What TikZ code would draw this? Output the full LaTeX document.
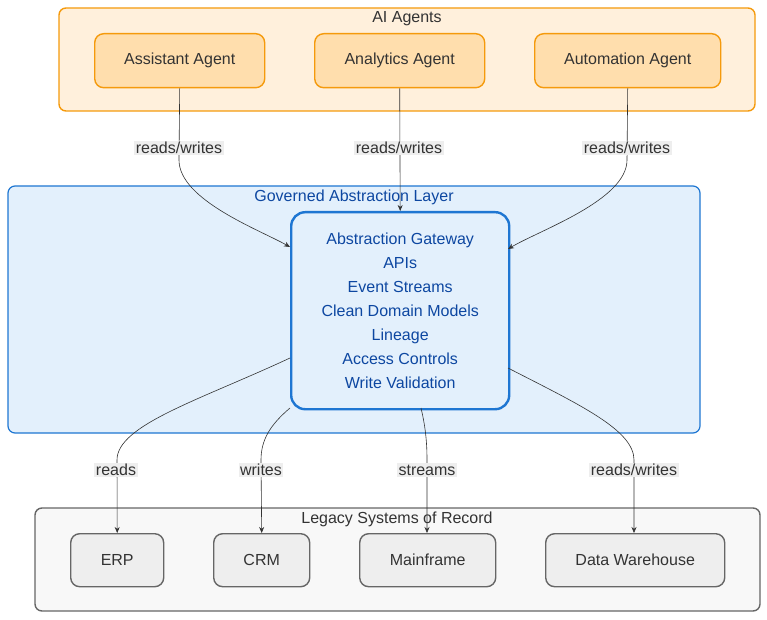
\documentclass[tikz,border=0pt]{standalone}
\usepackage{fontspec}
\setmainfont{Liberation Sans}
\usetikzlibrary{arrows.meta}
\definecolor{orgF}{HTML}{FFF0DC}
\definecolor{orgS}{HTML}{F59A0C}
\definecolor{agF}{HTML}{FFDEAD}
\definecolor{bluF}{HTML}{E3F0FC}
\definecolor{bluS}{HTML}{1E76D2}
\definecolor{bluT}{HTML}{0D47A1}
\definecolor{gryF}{HTML}{F8F8F8}
\definecolor{gryS}{HTML}{666666}
\definecolor{sysF}{HTML}{EEEEEE}
\definecolor{txt}{HTML}{333333}
\begin{document}
\begin{tikzpicture}[x=1pt,y=-1pt,
  font=\fontsize{16}{19}\selectfont,
  grp/.style={draw,rounded corners=7pt,line width=1.4pt},
  agent/.style={draw=orgS,fill=agF,rounded corners=9pt,line width=1.4pt,text=txt,minimum height=54pt,anchor=north west,inner sep=0pt},
  sys/.style={draw=gryS,fill=sysF,rounded corners=9pt,line width=1.4pt,text=txt,minimum height=53pt,anchor=north west,inner sep=0pt},
  lab/.style={fill=sysF,text=txt,inner sep=1.5pt},
  arr/.style={draw=txt,line width=0.6pt,-{Stealth[length=6pt,width=5pt]}}]
\useasboundingbox (0,0) rectangle (767,620);
% groups
\draw[grp,draw=orgS,fill=orgF] (59,8) rectangle (755,111);
\node[text=txt] (tA) at (407,19) {AI Agents};
\draw[grp,draw=bluS,fill=bluF,line width=1.2pt] (8,186) rectangle (700,433);
\node[text=bluT] (tB) at (354,197) {Governed Abstraction Layer};
\draw[grp,draw=gryS,fill=gryF] (35,508) rectangle (760,611);
\node[text=txt] (tC) at (397,519) {Legacy Systems of Record};
% agents
\node[agent,minimum width=170pt] (a1) at (94,33) {Assistant Agent};
\node[agent,minimum width=170pt] (a2) at (314,33) {Analytics Agent};
\node[agent,minimum width=186pt] (a3) at (534,33) {Automation Agent};
% gateway
\node[draw=bluS,line width=2.4pt,rounded corners=14pt,fill=bluF,text=bluT,minimum width=218pt,minimum height=197pt,anchor=north west,align=center,inner sep=0pt,font=\fontsize{16}{24}\selectfont] (gw) at (290,211)
 {Abstraction Gateway\\APIs\\Event Streams\\Clean Domain Models\\Lineage\\Access Controls\\Write Validation};
% systems
\node[sys,minimum width=93pt] (s1) at (70,533) {ERP};
\node[sys,minimum width=96pt] (s2) at (213,533) {CRM};
\node[sys,minimum width=136pt] (s3) at (359,533) {Mainframe};
\node[sys,minimum width=179pt] (s4) at (545,533) {Data Warehouse};
% coordinates
\coordinate (g1) at (290,247);
\coordinate (g3) at (508,249);
\coordinate (gA) at (290,358);
\coordinate (gB) at (290,408);
\coordinate (gC) at (421,408);
\coordinate (gD) at (508,368);
% top connectors
\draw[arr] (a1.south) -- (179,160) .. controls (179,200) and (260,230) .. (g1);
\draw[arr] (a2.south) -- (gw.north);
\draw[arr] (a3.south) -- (627,160) .. controls (627,200) and (540,230) .. (g3);
\node[lab] (l1) at (179,148) {reads/writes};
\node[lab] (l2) at (399,148) {reads/writes};
\node[lab] (l3) at (627,148) {reads/writes};
% bottom connectors
\draw[arr] (gA) .. controls (200,400) and (117,425) .. (117,460) -- (s1.north);
\draw[arr] (gB) .. controls (270,425) and (261,440) .. (261,460) -- (s2.north);
\draw[arr] (gC) .. controls (425,425) and (427,440) .. (427,460) -- (s3.north -| 427,0);
\draw[arr] (gD) .. controls (580,405) and (634,430) .. (634,460) -- (s4.north -| 634,0);
\node[lab] (l4) at (116,470) {reads};
\node[lab] (l5) at (261,470) {writes};
\node[lab] (l6) at (427,470) {streams};
\node[lab] (l7) at (634,470) {reads/writes};
\end{tikzpicture}
\end{document}
